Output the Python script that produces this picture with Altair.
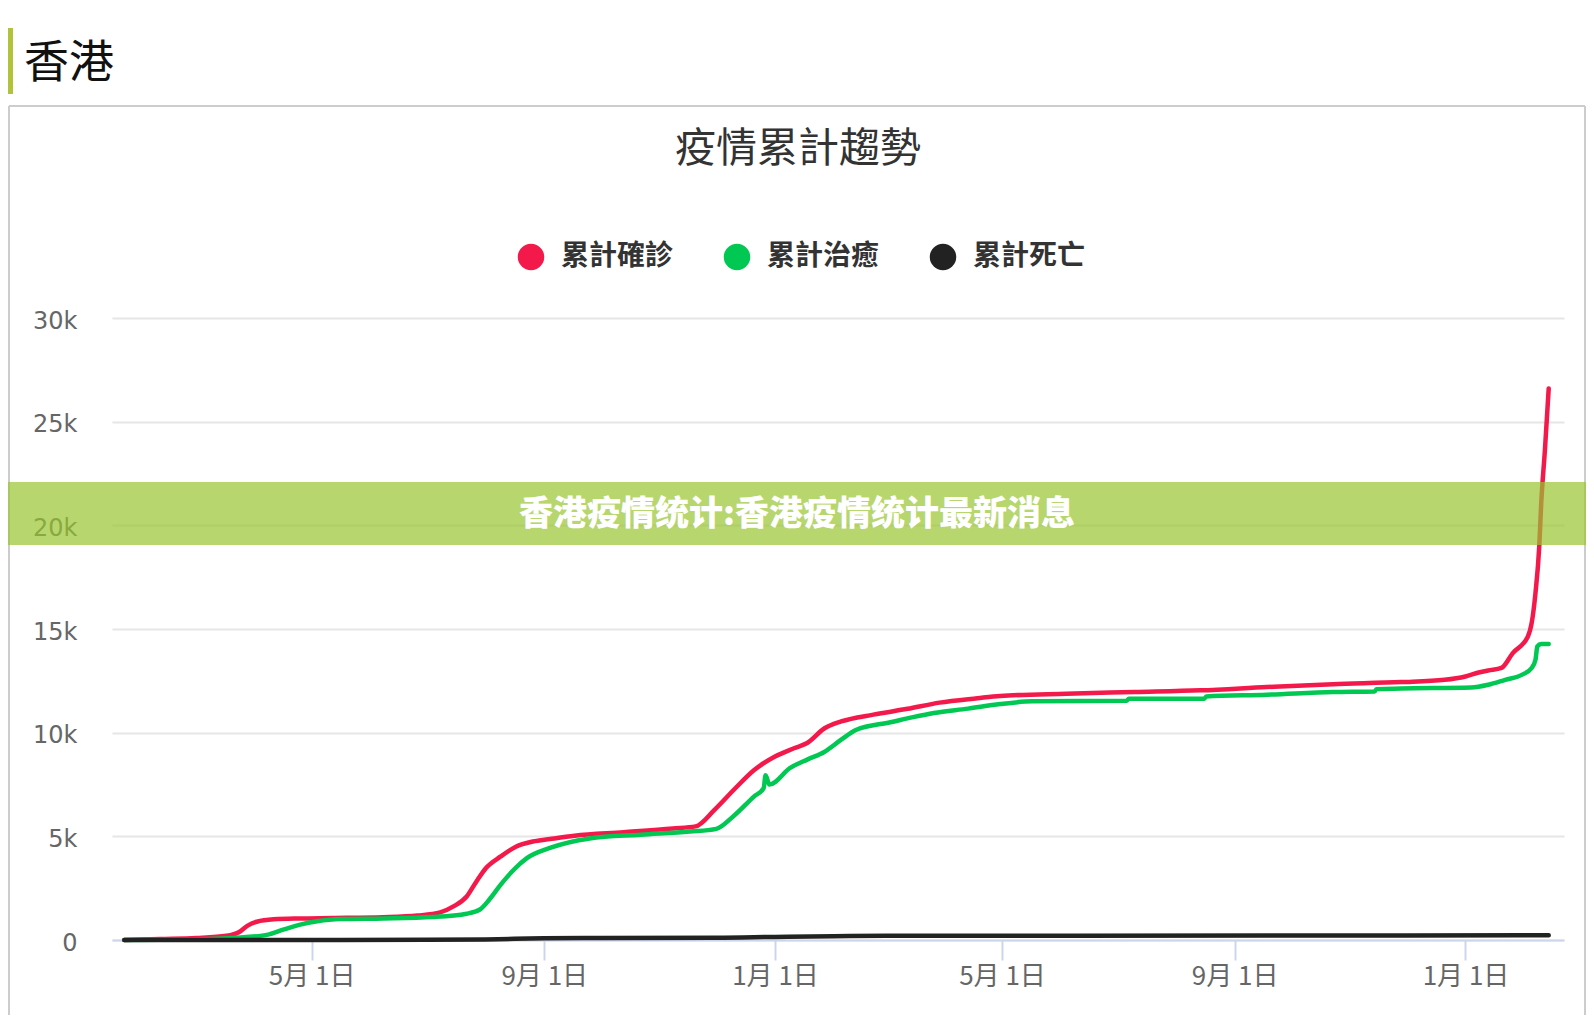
import altair as alt
import pandas as pd

# ---------------- data ----------------
SERIES = ["累計確診", "累計治癒", "累計死亡"]
COLORS = ["#f3194a", "#00c853", "#222222"]

confirmed_dates = [
    "2020-01-23", "2020-02-11", "2020-03-01", "2020-03-17", "2020-03-24", "2020-03-28",
    "2020-04-02", "2020-04-11", "2020-04-25", "2020-05-12", "2020-06-08", "2020-06-26",
    "2020-07-08", "2020-07-15", "2020-07-22", "2020-07-27", "2020-08-01", "2020-08-09",
    "2020-08-17", "2020-08-26", "2020-09-04", "2020-09-17", "2020-10-13", "2020-11-08",
    "2020-11-20", "2020-11-30", "2020-12-11", "2020-12-21", "2021-01-01", "2021-01-11",
    "2021-01-18", "2021-01-27", "2021-02-05", "2021-02-22", "2021-03-12", "2021-03-29",
    "2021-04-18", "2021-04-30", "2021-06-04", "2021-07-10", "2021-08-14", "2021-09-18",
    "2021-10-23", "2021-11-28", "2021-12-21", "2022-01-01", "2022-01-08", "2022-01-13",
    "2022-01-20", "2022-01-26", "2022-02-03", "2022-02-05", "2022-02-07", "2022-02-09",
    "2022-02-10", "2022-02-12", "2022-02-14",
]
confirmed_values = [
    0, 50, 100, 200, 400, 680,
    880, 1000, 1040, 1060, 1100, 1180,
    1330, 1620, 2100, 2800, 3450, 4030,
    4500, 4750, 4870, 5030, 5200, 5380,
    5480, 6280, 7320, 8200, 8850, 9250,
    9500, 10200, 10540, 10870, 11150, 11450,
    11660, 11770, 11880, 11960, 12040, 12200,
    12340, 12440, 12550, 12710, 12900, 13000,
    13120, 13840, 14640, 15290, 16730, 18980,
    21000, 23640, 26600,
]

recovered_dates = [
    "2020-01-23", "2020-03-01", "2020-03-26", "2020-04-08", "2020-04-16", "2020-04-25",
    "2020-05-04", "2020-05-16", "2020-06-08", "2020-07-04", "2020-07-22", "2020-07-29",
    "2020-08-03", "2020-08-09", "2020-08-16", "2020-08-23", "2020-09-04", "2020-09-25",
    "2020-10-22", "2020-11-17", "2020-12-01", "2020-12-10", "2020-12-21", "2020-12-26",
    "2020-12-27", "2020-12-29", "2021-01-09", "2021-01-18", "2021-01-27", "2021-02-05",
    "2021-02-13", "2021-03-03", "2021-03-15", "2021-03-26", "2021-04-13", "2021-04-30",
    "2021-05-17", "2021-07-06", "2021-07-07", "2021-08-16", "2021-08-17", "2021-09-18",
    "2021-10-23", "2021-11-14", "2021-11-15", "2021-11-28", "2022-01-04", "2022-01-13",
    "2022-01-22", "2022-01-31", "2022-02-05", "2022-02-07", "2022-02-08", "2022-02-10",
    "2022-02-14",
]
recovered_values = [
    0, 30, 130, 260, 500, 740,
    900, 1010, 1040, 1110, 1270, 1470,
    1950, 2670, 3400, 3960, 4440, 4900,
    5080, 5230, 5360, 5970, 6930, 7330,
    7950, 7500, 8300, 8700, 9070, 9660,
    10140, 10500, 10750, 10950, 11160, 11380,
    11510, 11540, 11640, 11640, 11750, 11830,
    11960, 11990, 12100, 12130, 12180, 12310,
    12550, 12800, 13120, 13520, 14160, 14280,
    14280,
]

deaths_dates = [
    "2020-01-23", "2020-03-31", "2020-07-01", "2020-08-01", "2020-09-01", "2020-10-01",
    "2020-12-01", "2021-01-01", "2021-02-01", "2021-03-01", "2021-06-01", "2021-12-01",
    "2022-02-14",
]
deaths_values = [0, 4, 7, 30, 80, 100, 110, 150, 185, 200, 210, 213, 230]

X_TICKS = ["2020-05-01", "2020-09-01", "2021-01-01", "2021-05-01", "2021-09-01", "2022-01-01"]
X_DOMAIN = ["2020-01-16 12:00", "2022-02-22 02:00"]
Y_TICKS = [0, 5000, 10000, 15000, 20000, 25000, 30000]
Y_DOMAIN = [0, 30000]

PAGE_HEADING = ["香港"]
CHART_TITLE = ["疫情累計趨勢"]
BANNER_TEXT = ["香港疫情统计:香港疫情统计最新消息"]

# ---------------- tables ----------------
frames = []
for name, ds, vs in zip(SERIES, [confirmed_dates, recovered_dates, deaths_dates],
                        [confirmed_values, recovered_values, deaths_values]):
    frames.append(pd.DataFrame({"date": ds, "value": vs, "series": name}))
df = pd.concat(frames, ignore_index=True)


def dt(s):
    t = pd.Timestamp(s)
    return alt.DateTime(year=t.year, month=t.month, date=t.day,
                        hours=t.hour, minutes=t.minute, utc=True)


W, H = 1452, 622
CJK_TC = "Noto Sans CJK TC"
CJK_SC = "Noto Sans CJK SC"

x_enc = alt.X(
    "date:T",
    title=None,
    scale=alt.Scale(type="utc", domain=[dt(v) for v in X_DOMAIN], nice=False),
    axis=alt.Axis(
        values=[dt(v) for v in X_TICKS],
        labelExpr="utcFormat(datum.value, '%-m月 %-d日')",
        domainColor="#ccd6eb", domainWidth=2,
        tickColor="#ccd6eb", tickWidth=2, tickSize=20,
        labelFont=CJK_TC, labelFontSize=26, labelColor="#666666",
        labelPadding=3, labelFlush=False, labelOverlap=False, grid=False,
    ),
)
y_enc = alt.Y(
    "value:Q",
    title=None,
    scale=alt.Scale(domain=Y_DOMAIN, nice=False, zero=True),
    axis=alt.Axis(
        values=Y_TICKS,
        labelExpr="datum.value == 0 ? '0' : (datum.value / 1000) + 'k'",
        domain=False, ticks=False,
        grid=True, gridColor="#e6e6e6", gridWidth=2,
        labelFont="DejaVu Sans", labelFontSize=24, labelColor="#666666",
        labelPadding=35, labelOffset=3,
    ),
)

base = alt.Chart(df).encode(x=x_enc, y=y_enc)
lines = [
    base.transform_filter(alt.datum.series == name).mark_line(
        color=col, strokeWidth=4.5, strokeCap="round", strokeJoin="round",
        interpolate="monotone",
    )
    for name, col in zip(SERIES, COLORS)
]

# legend: a fill scale with the series names and colours (filled circles)
legend_df = pd.DataFrame({"name": SERIES})
legend_layer = alt.Chart(legend_df).transform_filter("false").mark_point(
    filled=True, shape="circle", size=700
).encode(
    fill=alt.Fill(
        "name:N", scale=alt.Scale(domain=SERIES, range=COLORS),
        legend=alt.Legend(
            title=None, orient="none", legendX=405, legendY=-75,
            direction="horizontal", symbolType="circle", symbolSize=700,
            symbolStrokeWidth=0, symbolOpacity=1,
            labelFont=CJK_TC, labelFontSize=28, labelFontWeight="bold",
            labelColor="#333333", labelOffset=16, columnPadding=49, padding=0,
        ),
    )
)

one = pd.DataFrame({"k": [0]})

heading_bar = alt.Chart(one).mark_rect(color="#b3c339").encode(
    x=alt.value(-104), x2=alt.value(-99), y=alt.value(-290), y2=alt.value(-224)
)
heading_text = alt.Chart(pd.DataFrame({"t": PAGE_HEADING})).mark_text(
    font=CJK_TC, fontSize=45, color="#111111", align="left", baseline="middle"
).encode(x=alt.value(-88), y=alt.value(-254), text="t:N")

border_top = alt.Chart(one).mark_rule(color="#cccccc", strokeWidth=2).encode(
    x=alt.value(-103), x2=alt.value(1473), y=alt.value(-212)
)
border_left = alt.Chart(one).mark_rule(color="#cccccc", strokeWidth=2).encode(
    x=alt.value(-103), y=alt.value(-212), y2=alt.value(720)
)
border_right = alt.Chart(one).mark_rule(color="#cccccc", strokeWidth=2).encode(
    x=alt.value(1473), y=alt.value(-212), y2=alt.value(720)
)

title_text = alt.Chart(pd.DataFrame({"t": CHART_TITLE})).mark_text(
    font=CJK_TC, fontSize=41, color="#333333", align="center", baseline="middle"
).encode(x=alt.value(686), y=alt.value(-168), text="t:N")

banner = alt.Chart(one).mark_rect(color="#98c430", opacity=0.7).encode(
    x=alt.value(-104), x2=alt.value(1474), y=alt.value(164), y2=alt.value(227)
)
banner_text = alt.Chart(pd.DataFrame({"t": BANNER_TEXT})).mark_text(
    font=CJK_SC, fontSize=34, fontWeight=900, color="#ffffff",
    align="center", baseline="middle"
).encode(x=alt.value(685), y=alt.value(197), text="t:N")

chart = alt.layer(
    border_top, border_left, border_right, heading_bar, heading_text, title_text,
    *lines, legend_layer, banner, banner_text,
).properties(
    width=W, height=H,
    padding={"left": 104, "top": 310, "right": 22, "bottom": 75},
    autosize=alt.AutoSizeParams(type="none"),
    background="#ffffff",
).configure_view(strokeWidth=0)

chart.save("out.html", embed_options={"renderer": "svg", "actions": False})
